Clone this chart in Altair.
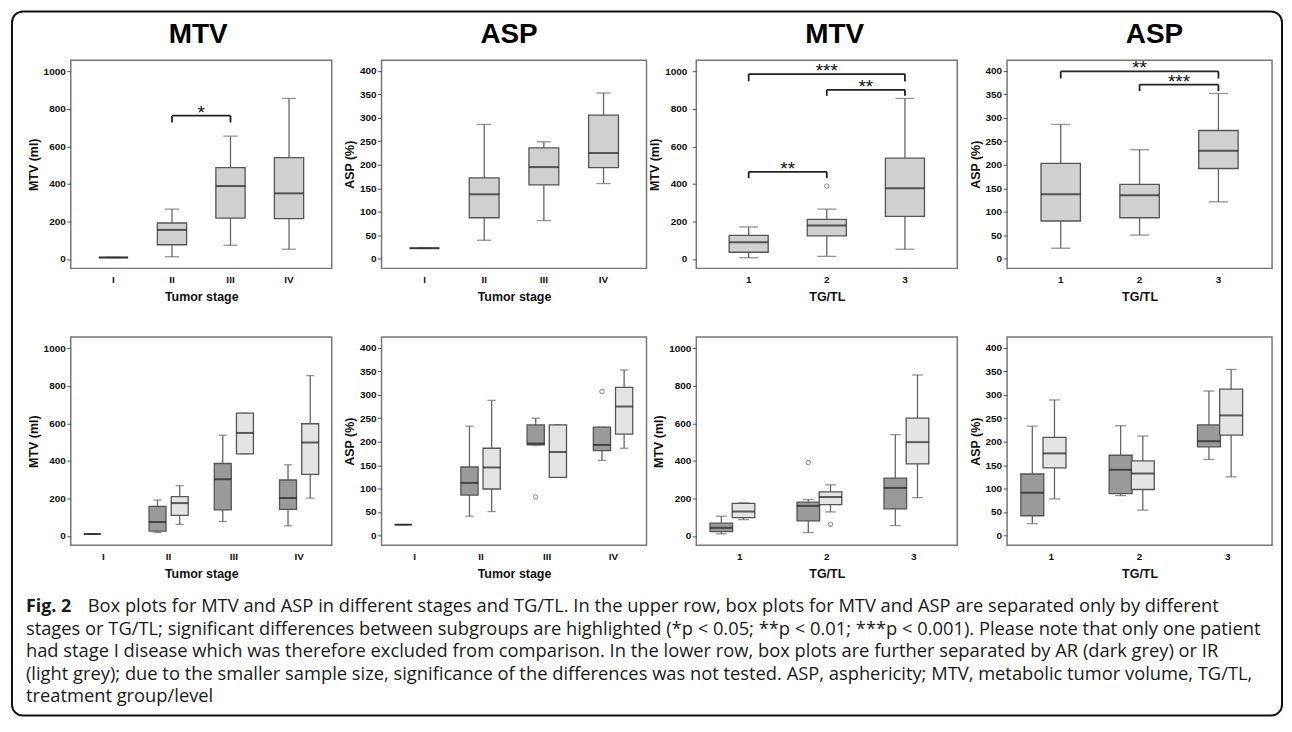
import altair as alt
import pandas as pd

FONT = "Liberation Sans"
CAP_FONT = "Open Sans"

# ---------------- categories ----------------
STAGES = ["I", "II", "III", "IV"]
TGTL = ["1", "2", "3"]
GROUPS = ["AR", "IR"]

MTV_TICKS = [0, 200, 400, 600, 800, 1000]
ASP_TICKS = [0, 50, 100, 150, 200, 250, 300, 350, 400]

# ---------------- upper row ----------------
mtv_stage_lo = [8, 12, 73, 52]
mtv_stage_q1 = [8, 76, 218, 215]
mtv_stage_med = [8, 155, 389, 350]
mtv_stage_q3 = [8, 192, 487, 540]
mtv_stage_hi = [8, 266, 655, 856]

asp_stage_lo = [22, 39, 81, 160]
asp_stage_q1 = [22, 87, 157, 194]
asp_stage_med = [22, 137, 195, 225]
asp_stage_q3 = [22, 172, 236, 306]
asp_stage_hi = [22, 286, 249, 353]

mtv_tg_lo = [7, 14, 52]
mtv_tg_q1 = [36, 123, 227]
mtv_tg_med = [89, 178, 377]
mtv_tg_q3 = [126, 211, 538]
mtv_tg_hi = [171, 266, 856]
mtv_tg_out_cat = ["2"]
mtv_tg_out_val = [389]

asp_tg_lo = [22, 50, 121]
asp_tg_q1 = [80, 87, 192]
asp_tg_med = [137, 135, 230]
asp_tg_q3 = [203, 158, 273]
asp_tg_hi = [286, 232, 352]

# significance brackets
mtv_stage_br_a = ["II"]
mtv_stage_br_b = ["III"]
mtv_stage_br_top = [764]
mtv_stage_br_bot = [728]
mtv_stage_br_lab = ["*"]

mtv_tg_br_a = ["1", "2", "1"]
mtv_tg_br_b = ["2", "3", "3"]
mtv_tg_br_top = [465, 902, 986]
mtv_tg_br_bot = [432, 870, 947]
mtv_tg_br_lab = ["**", "**", "***"]

asp_tg_br_a = ["1", "2"]
asp_tg_br_b = ["3", "3"]
asp_tg_br_top = [399, 371]
asp_tg_br_bot = [384, 357]
asp_tg_br_lab = ["**", "***"]

# ---------------- lower row (AR dark / IR light) ----------------
low_mtv_stage_cat = ["I", "II", "II", "III", "III", "IV", "IV"]
low_mtv_stage_grp = ["AR", "AR", "IR", "AR", "IR", "AR", "IR"]
low_mtv_stage_lo = [10, 18, 61, 77, 437, 54, 202]
low_mtv_stage_q1 = [10, 26, 110, 139, 437, 142, 328]
low_mtv_stage_med = [10, 74, 175, 302, 549, 202, 498]
low_mtv_stage_q3 = [10, 158, 210, 386, 655, 298, 598]
low_mtv_stage_hi = [10, 191, 268, 537, 655, 379, 855]

low_asp_stage_cat = ["I", "II", "II", "III", "III", "IV", "IV"]
low_asp_stage_grp = ["AR", "AR", "IR", "AR", "IR", "AR", "IR"]
low_asp_stage_lo = [23, 41, 51, 193, 124, 160, 186]
low_asp_stage_q1 = [23, 86, 99, 193, 124, 181, 216]
low_asp_stage_med = [23, 112, 145, 196, 178, 193, 275]
low_asp_stage_q3 = [23, 146, 186, 236, 236, 231, 316]
low_asp_stage_hi = [23, 233, 288, 250, 236, 231, 353]
low_asp_stage_out_cat = ["III", "IV"]
low_asp_stage_out_grp = ["AR", "AR"]
low_asp_stage_out_val = [82, 307]

low_mtv_tg_cat = ["1", "1", "2", "2", "3", "3"]
low_mtv_tg_grp = ["AR", "IR", "AR", "IR", "AR", "IR"]
low_mtv_tg_lo = [11, 87, 18, 128, 55, 204]
low_mtv_tg_q1 = [23, 98, 80, 167, 144, 384]
low_mtv_tg_med = [43, 130, 160, 208, 256, 500]
low_mtv_tg_q3 = [68, 174, 180, 235, 308, 628]
low_mtv_tg_hi = [105, 176, 194, 272, 540, 858]
low_mtv_tg_out_cat = ["2", "2"]
low_mtv_tg_out_grp = ["AR", "IR"]
low_mtv_tg_out_val = [391, 62]

low_asp_tg_cat = ["1", "1", "2", "2", "3", "3"]
low_asp_tg_grp = ["AR", "IR", "AR", "IR", "AR", "IR"]
low_asp_tg_lo = [25, 78, 85, 54, 162, 125]
low_asp_tg_q1 = [42, 144, 89, 98, 189, 214]
low_asp_tg_med = [91, 175, 140, 132, 201, 256]
low_asp_tg_q3 = [131, 209, 171, 159, 236, 312]
low_asp_tg_hi = [233, 289, 234, 212, 308, 354]

# ---------------- caption ----------------
CAPTION_BOLD = "Fig. 2"
CAPTION_FIRST = ("Box plots for MTV and ASP in different stages and TG/TL. In the upper row, "
                 "box plots for MTV and ASP are separated only by different")
CAPTION_REST = [
    "stages or TG/TL; significant differences between subgroups are highlighted "
    "(*p < 0.05; **p < 0.01; ***p < 0.001). Please note that only one patient",
    "had stage I disease which was therefore excluded from comparison. In the lower row, "
    "box plots are further separated by AR (dark grey) or IR",
    "(light grey); due to the smaller sample size, significance of the differences was not "
    "tested. ASP, asphericity; MTV, metabolic tumor volume, TG/TL,",
    "treatment group/level",
]

# ---------------- styles ----------------
TOP_FILL = "#d0d0d0"
DARK_FILL = "#9a9a9a"
LIGHT_FILL = "#e4e4e4"
BOX_STROKE = "#555555"
WHISKER = "#666666"
MEDIAN = "#1e1e1e"
H = 209
CAP_SIZE = 18.4
CAP_LINE = 22.6


def make_panel(cats, cat_col, lo, q1, med, q3, hi, width, ytitle, ydom, yticks, xtitle,
               grp=None, out=None, brackets=None, title=None, title_dx=0, po=0.2,
               label_pad=1.5, extra=None):
    n = len(cats)
    grouped = grp is not None
    if grouped:
        pi, pout = 0.32, 0.16
    else:
        pi, pout = 0.0, po
    step = width / (n - pi + 2 * pout)
    box_w = (0.26 if grouped else 0.5) * step
    cap_w = 0.48 * box_w

    xscale = alt.Scale(domain=cats, paddingInner=pi, paddingOuter=pout)
    xax = alt.Axis(title=xtitle, labelAngle=0, ticks=False, domain=False,
                   labelPadding=6, titlePadding=6)
    yscale = alt.Scale(domain=ydom, nice=False, zero=False)
    yax = alt.Axis(values=yticks, format="d", title=ytitle, grid=False, domain=False,
                   tickSize=4, labelPadding=label_pad, titlePadding=3)

    def X(field="cat"):
        return alt.X(f"{field}:N", scale=xscale, axis=xax)

    def Y(field):
        return alt.Y(f"{field}:Q", scale=yscale, axis=yax)

    df = pd.DataFrame({"cat": cat_col, "lo": lo, "q1": q1, "med": med, "q3": q3, "hi": hi})
    enc = {"x": X()}
    if grouped:
        df["grp"] = grp
        enc["xOffset"] = alt.XOffset("grp:N", scale=alt.Scale(domain=GROUPS, paddingInner=0,
                                                              paddingOuter=0))
    base = alt.Chart(df).encode(**enc)

    layers = []
    layers.append(base.mark_rule(color=WHISKER, strokeWidth=1.3).encode(y=Y("lo"), y2="hi:Q"))
    layers.append(base.mark_tick(size=cap_w, thickness=1.3, color=WHISKER,
                                 orient="horizontal").encode(y=Y("lo")))
    layers.append(base.mark_tick(size=cap_w, thickness=1.3, color=WHISKER,
                                 orient="horizontal").encode(y=Y("hi")))
    if grouped:
        fill = alt.Fill("grp:N", scale=alt.Scale(domain=GROUPS, range=[DARK_FILL, LIGHT_FILL]),
                        legend=None)
        layers.append(base.mark_bar(width=box_w, stroke=BOX_STROKE, strokeWidth=1.3)
                      .encode(y=Y("q1"), y2="q3:Q", fill=fill))
    else:
        layers.append(base.mark_bar(width=box_w, stroke=BOX_STROKE, strokeWidth=1.3,
                                    fill=TOP_FILL).encode(y=Y("q1"), y2="q3:Q"))
    layers.append(base.mark_tick(size=box_w, thickness=2, color=MEDIAN,
                                 orient="horizontal").encode(y=Y("med")))

    if out is not None:
        odf = pd.DataFrame({"cat": out[0], "val": out[-1]})
        oenc = {"x": X(), "y": Y("val")}
        if grouped:
            odf["grp"] = out[1]
            oenc["xOffset"] = alt.XOffset("grp:N", scale=alt.Scale(domain=GROUPS, paddingInner=0,
                                                                   paddingOuter=0))
        layers.append(alt.Chart(odf).mark_point(shape="circle", size=20, filled=False,
                                                color="#555555", strokeWidth=1)
                      .encode(**oenc))

    if brackets is not None:
        a, b, top, bot, lab = brackets
        bdf = pd.DataFrame({"cat": a, "cat_b": b, "top": top, "bot": bot, "lab": lab})
        bc = alt.Chart(bdf)
        layers.append(bc.mark_rule(color="#222222", strokeWidth=1.8).encode(
            x=alt.X("cat:N", scale=xscale, axis=xax, bandPosition=0.5),
            x2=alt.X2("cat_b", bandPosition=0.5), y=Y("top")))
        layers.append(bc.mark_rule(color="#222222", strokeWidth=1.8).encode(
            x=X("cat"), y=Y("top"), y2="bot:Q"))
        layers.append(bc.mark_rule(color="#222222", strokeWidth=1.8).encode(
            x=X("cat_b"), y=Y("top"), y2="bot:Q"))
        for i in range(len(a)):
            span = cats.index(b[i]) - cats.index(a[i])
            layers.append(alt.Chart(bdf.iloc[[i]]).mark_text(
                font=FONT, fontSize=19, color="#111111", baseline="alphabetic", align="center",
                dx=span * step / 2, dy=3).encode(x=X("cat"), y=Y("top"), text="lab:N"))

    if extra:
        layers.extend(extra)

    ch = alt.layer(*layers).properties(width=width, height=H)
    if title is not None:
        ch = ch.properties(title=alt.TitleParams(title, dx=title_dx))
    return ch


# caption + outer frame drawn relative to the lower-left panel
one = pd.DataFrame({"k": [0]})
frame_rect = alt.Chart(one).mark_rect(filled=False, stroke="#111111", strokeWidth=2,
                                      cornerRadius=11).encode(
    x=alt.value(-59), x2=alt.value(1216), y=alt.value(-327), y2=alt.value(380))
caption_layers = [frame_rect]
caption_layers.append(alt.Chart(one).mark_text(
    font=CAP_FONT, fontSize=18, fontWeight="bold", color="#1a1a1a", align="left",
    baseline="alphabetic").encode(x=alt.value(-45), y=alt.value(276),
                                  text=alt.value(CAPTION_BOLD)))
caption_layers.append(alt.Chart(one).mark_text(
    font=CAP_FONT, fontSize=CAP_SIZE, color="#1a1a1a", align="left",
    baseline="alphabetic").encode(x=alt.value(17), y=alt.value(276),
                                  text=alt.value(CAPTION_FIRST)))
for i, line in enumerate(CAPTION_REST):
    caption_layers.append(alt.Chart(one).mark_text(
        font=CAP_FONT, fontSize=CAP_SIZE, color="#1a1a1a", align="left",
        baseline="alphabetic").encode(x=alt.value(-45), y=alt.value(276 + CAP_LINE * (i + 1)),
                                      text=alt.value(line)))

MTV_DOM = [-50, 1060]
ASP_DOM = [-21, 423]
W = [262, 266, 262, 266]

p1 = make_panel(STAGES, STAGES, mtv_stage_lo, mtv_stage_q1, mtv_stage_med, mtv_stage_q3,
                mtv_stage_hi, W[0], "MTV (ml)", MTV_DOM, MTV_TICKS, "Tumor stage",
                brackets=(mtv_stage_br_a, mtv_stage_br_b, mtv_stage_br_top, mtv_stage_br_bot,
                          mtv_stage_br_lab), title="MTV", title_dx=-3, po=0.23)
p2 = make_panel(STAGES, STAGES, asp_stage_lo, asp_stage_q1, asp_stage_med, asp_stage_q3,
                asp_stage_hi, W[1], "ASP (%)", ASP_DOM, ASP_TICKS, "Tumor stage",
                title="ASP", title_dx=-5, po=0.22)
p3 = make_panel(TGTL, TGTL, mtv_tg_lo, mtv_tg_q1, mtv_tg_med, mtv_tg_q3, mtv_tg_hi, W[2],
                "MTV (ml)", MTV_DOM, MTV_TICKS, "TG/TL",
                out=(mtv_tg_out_cat, mtv_tg_out_val),
                brackets=(mtv_tg_br_a, mtv_tg_br_b, mtv_tg_br_top, mtv_tg_br_bot, mtv_tg_br_lab),
                title="MTV", title_dx=8, po=0.17, label_pad=5.5)
p4 = make_panel(TGTL, TGTL, asp_tg_lo, asp_tg_q1, asp_tg_med, asp_tg_q3, asp_tg_hi, W[3],
                "ASP (%)", ASP_DOM, ASP_TICKS, "TG/TL",
                brackets=(asp_tg_br_a, asp_tg_br_b, asp_tg_br_top, asp_tg_br_bot, asp_tg_br_lab),
                title="ASP", title_dx=15, po=0.18)

p5 = make_panel(STAGES, low_mtv_stage_cat, low_mtv_stage_lo, low_mtv_stage_q1,
                low_mtv_stage_med, low_mtv_stage_q3, low_mtv_stage_hi, W[0], "MTV (ml)",
                MTV_DOM, MTV_TICKS, "Tumor stage", grp=low_mtv_stage_grp,
                extra=caption_layers)
p6 = make_panel(STAGES, low_asp_stage_cat, low_asp_stage_lo, low_asp_stage_q1,
                low_asp_stage_med, low_asp_stage_q3, low_asp_stage_hi, W[1], "ASP (%)",
                ASP_DOM, ASP_TICKS, "Tumor stage", grp=low_asp_stage_grp,
                out=(low_asp_stage_out_cat, low_asp_stage_out_grp, low_asp_stage_out_val))
p7 = make_panel(TGTL, low_mtv_tg_cat, low_mtv_tg_lo, low_mtv_tg_q1, low_mtv_tg_med,
                low_mtv_tg_q3, low_mtv_tg_hi, W[2], "MTV (ml)", MTV_DOM, MTV_TICKS, "TG/TL",
                grp=low_mtv_tg_grp, out=(low_mtv_tg_out_cat, low_mtv_tg_out_grp,
                                         low_mtv_tg_out_val))
p8 = make_panel(TGTL, low_asp_tg_cat, low_asp_tg_lo, low_asp_tg_q1, low_asp_tg_med,
                low_asp_tg_q3, low_asp_tg_hi, W[3], "ASP (%)", ASP_DOM, ASP_TICKS, "TG/TL",
                grp=low_asp_tg_grp)

chart = alt.concat(p1, p2, p3, p4, p5, p6, p7, p8, columns=4,
                   spacing={"row": 69, "column": 50}, bounds="flush", align="each").properties(
    padding={"left": 2, "top": 0, "right": 0, "bottom": 0}, background="white"
).configure_view(
    stroke="#777777", strokeWidth=1.5
).configure_axis(
    labelFont=FONT, labelFontWeight="bold", labelFontSize=10, labelColor="#111111",
    titleFont=FONT, titleFontWeight="bold", titleFontSize=12.5, titleColor="#111111",
    tickColor="#555555", tickWidth=1
).configure_title(
    font=FONT, fontSize=28, fontWeight="bold", color="#000000", anchor="middle",
    frame="group", offset=11, baseline="alphabetic"
)

chart.save("out.html", embed_options={"renderer": "svg", "actions": False})
